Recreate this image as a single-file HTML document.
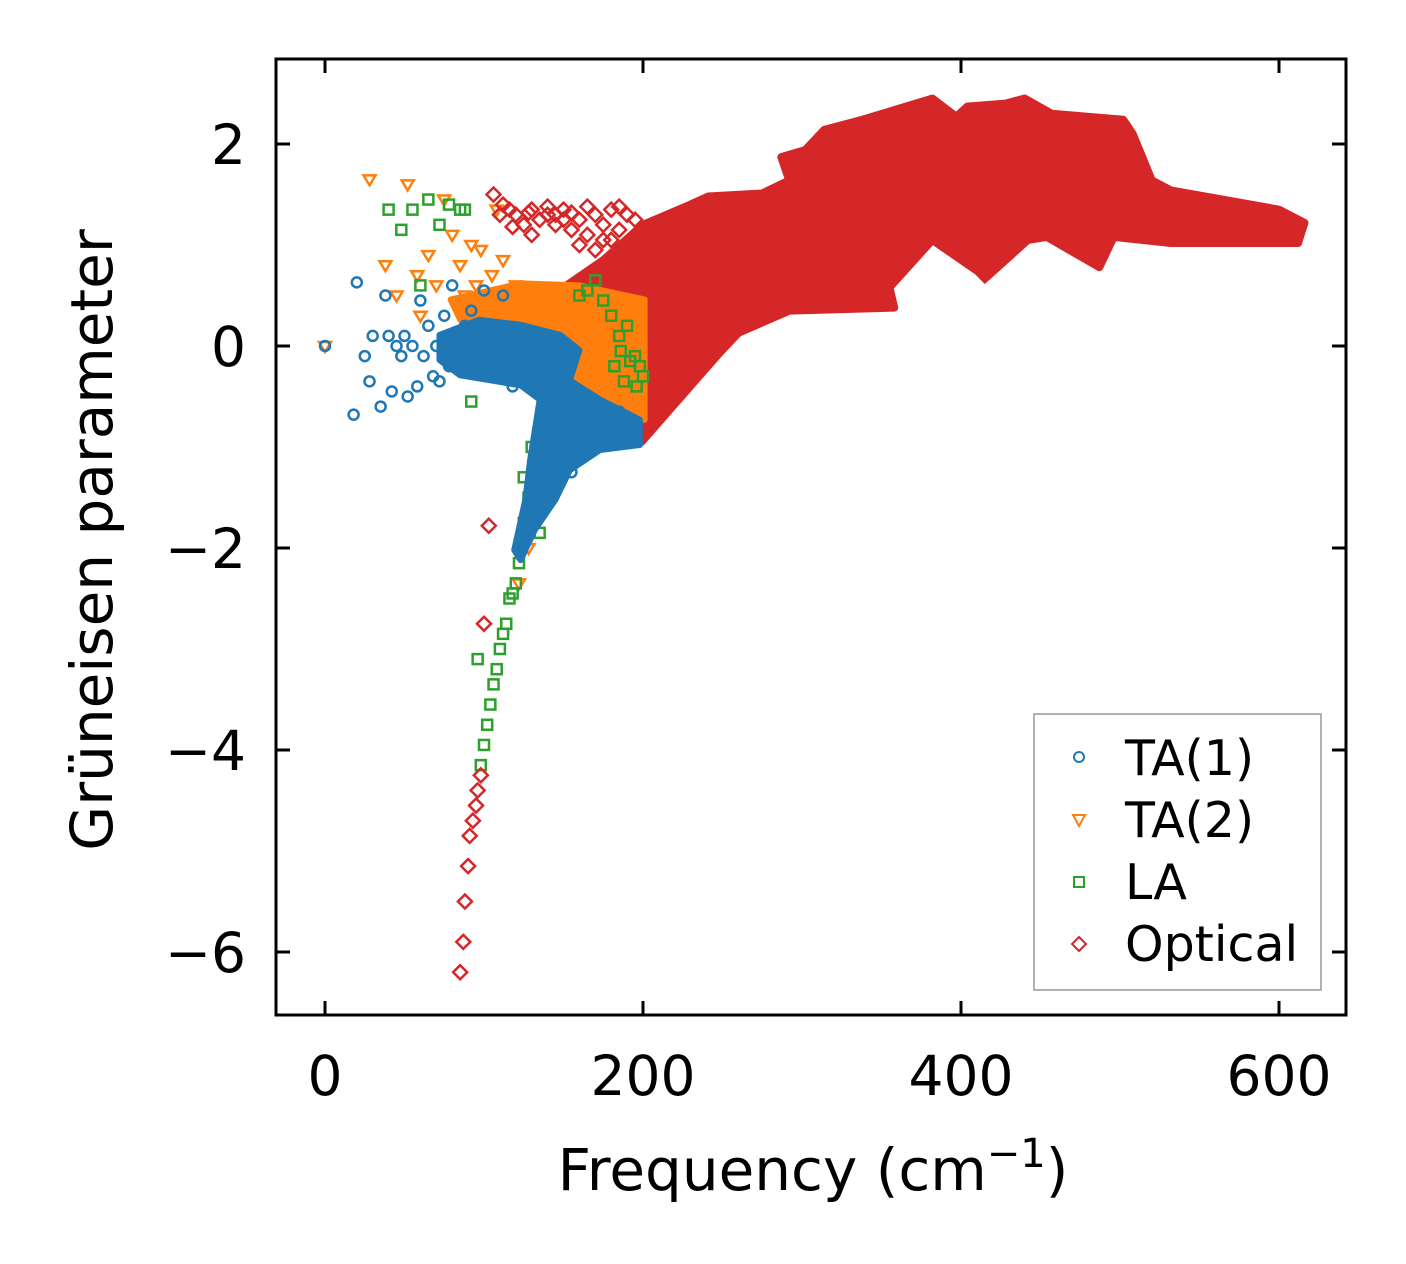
<!DOCTYPE html>
<html><head><meta charset="utf-8"><style>
html,body{margin:0;padding:0;background:#fff;}
svg{display:block;font-family:"DejaVu Sans","Liberation Sans",sans-serif;}
</style></head><body>
<svg id="chart" width="1406" height="1264" viewBox="0 0 1406 1264">
<g id="marks"></g>
<rect x="276" y="59" width="1070" height="956" fill="none" stroke="#000" stroke-width="3"/>
<g id="ticks"></g>
<text x="813" y="1190" font-size="58" text-anchor="middle">Frequency (cm<tspan dy="-23" font-size="40">−1</tspan><tspan dy="23">)</tspan></text>
<text transform="translate(112,540) rotate(-90)" font-size="58" text-anchor="middle">Grüneisen parameter</text>
<g>
<rect x="1034" y="714" width="287" height="276" fill="#fff" stroke="#999" stroke-width="1.5"/>
<circle cx="1079" cy="757" r="5" fill="none" stroke="#1f77b4" stroke-width="2"/>
<text x="1125" y="775" font-size="49">TA(1)</text>
<path d="M1073,815 L1085,815 L1079,826 Z" fill="none" stroke="#ff7f0e" stroke-width="2"/>
<text x="1125" y="837" font-size="49">TA(2)</text>
<rect x="1074" y="877" width="10" height="10" fill="none" stroke="#2ca02c" stroke-width="2"/>
<text x="1125" y="899" font-size="49">LA</text>
<path d="M1079,937 L1086,944 L1079,951 L1072,944 Z" fill="none" stroke="#d62728" stroke-width="2"/>
<text x="1125" y="961" font-size="49">Optical</text>
</g>
</svg>
<script>
const xTicks=[0,200,400,600];
const yTicks=[2,0,-2,-4,-6];
const yTickLabels=["2","0","−2","−4","−6"];
// dense optical region outline (frequency, gamma)
const opticalRegionF=[152,175,200,227,241,275,292,287,302,314,338,382,397,404,428,440,457,502,508,520,532,600,616,612,532,496,487,454,442,416,382,355,358,292,260,248,199,192,200,180];
const opticalRegionG=[0.6,0.85,1.2,1.38,1.48,1.51,1.64,1.87,1.94,2.14,2.24,2.45,2.27,2.37,2.4,2.45,2.3,2.24,2.1,1.64,1.54,1.35,1.22,1.02,1.02,1.08,0.78,1.08,1.05,0.68,1.05,0.58,0.38,0.35,0.13,-0.07,-0.95,-0.7,0,0.5];
// dense TA(2) cloud outline
const ta2RegionF=[79,123,160,201,201,173,148,123,85];
const ta2RegionG=[0.46,0.62,0.6,0.46,-0.73,-0.58,-0.34,0.06,0.26];
// dense TA(1) core outline
const ta1RegionF=[72,97,123,148,160,154,173,198,198,173,154,145,132,123,119,126,129,135,123,104,85,72];
const ta1RegionG=[0.11,0.26,0.21,0.11,-0.04,-0.34,-0.53,-0.73,-0.98,-1.03,-1.23,-1.52,-1.82,-2.12,-2.02,-1.52,-1.13,-0.53,-0.39,-0.34,-0.29,-0.14];
const optF=[85,87,88,90,91,93,95,96,98,100,103,106,110,112,116,120,125,130,140,145,150,155,160,165,170,175,180,185,190,195,130,118,415,135,145,155,165,175,185,195,160,170,180,190,150,140,128];
const optG=[-6.2,-5.9,-5.5,-5.15,-4.85,-4.7,-4.55,-4.4,-4.25,-2.75,-1.78,1.5,1.3,1.4,1.35,1.3,1.2,1.35,1.38,1.3,1.35,1.32,1.25,1.38,1.3,1.2,1.35,1.38,1.3,1.25,1.1,1.18,0.7,1.25,1.2,1.15,1.1,1.05,1.15,1.1,1.0,0.95,1.05,0.9,1.25,1.3,1.32];
const ta1F=[0,18,20,25,28,30,35,38,40,42,45,48,50,52,55,58,60,62,65,68,70,72,75,78,80,82,85,88,90,92,95,98,100,102,105,108,110,112,115,118,160,165,170,175,180,185,190,150,155,145];
const ta1G=[0,-0.68,0.63,-0.1,-0.35,0.1,-0.6,0.5,0.1,-0.45,0.0,-0.1,0.1,-0.5,0.0,-0.4,0.45,-0.1,0.2,-0.3,0.0,-0.35,0.3,-0.2,0.6,0.1,-0.2,0.2,-0.1,0.35,0.0,-0.05,0.55,-0.15,0.1,-0.3,0.0,0.5,-0.1,-0.4,-0.9,-0.85,-0.95,-0.75,-0.8,-0.65,-0.95,-1.1,-1.25,-0.95];
const ta2F=[0,28,38,45,52,58,60,65,70,75,80,85,88,92,95,98,100,105,108,112,115,120,125,130,170,175,180,185,190,195,122,128];
const ta2G=[0,1.65,0.8,0.5,1.6,0.7,0.3,0.9,0.6,1.45,1.1,0.8,0.5,1.0,0.6,0.95,0.2,0.7,1.35,0.85,0.4,0.6,0.3,0.5,-0.1,0.3,0.0,-0.3,-0.5,-0.65,-2.35,-2.0];
const laF=[40,48,55,60,65,72,78,85,88,92,96,98,100,102,104,106,108,110,112,114,116,118,120,122,125,128,130,135,160,165,170,175,180,185,190,195,200,182,188,192,198,196,186,130,125];
const laG=[1.35,1.15,1.35,0.6,1.45,1.2,1.4,1.35,1.35,-0.55,-3.1,-4.15,-3.95,-3.75,-3.55,-3.35,-3.2,-3.0,-2.85,-2.75,-2.5,-2.45,-2.35,-2.15,-1.75,-1.5,-1.0,-1.85,0.5,0.55,0.65,0.45,0.3,0.1,0.2,-0.1,-0.3,-0.2,-0.35,-0.15,-0.2,-0.4,-0.05,-1.6,-1.3];

const sx=f=>325+f*1.59;
const sy=g=>346-g*101;
const NS='http://www.w3.org/2000/svg';
const marks=document.getElementById('marks');
const ticks=document.getElementById('ticks');
function mk(tag,attrs,parent){const e=document.createElementNS(NS,tag);for(const k in attrs)e.setAttribute(k,attrs[k]);parent.appendChild(e);return e;}
function polyPts(F,G){return F.map((f,i)=>sx(f)+','+sy(G[i])).join(' ');}

const poly=mk('polygon',{points:polyPts(opticalRegionF,opticalRegionG),fill:'#d62728',stroke:'#d62728','stroke-width':8,'stroke-linejoin':'round'},marks);


const poly2=mk('polygon',{points:polyPts(ta2RegionF,ta2RegionG),fill:'#ff7f0e',stroke:'#ff7f0e','stroke-width':6,'stroke-linejoin':'round'},marks);



function tri(x,y){return `M${x-6},${y-4} L${x+6},${y-4} L${x},${y+6} Z`;}
function dia(x,y){return `M${x},${y-7} L${x+7},${y} L${x},${y+7} L${x-7},${y} Z`;}
ta2F.forEach((f,i)=>{const p=mk('path',{d:tri(sx(f),sy(ta2G[i])),fill:'none',stroke:'#ff7f0e','stroke-width':2.5},marks);

});
laF.forEach((f,i)=>{const p=mk('rect',{x:sx(f)-5,y:sy(laG[i])-5,width:10,height:10,fill:'none',stroke:'#2ca02c','stroke-width':2.5},marks);

});
const poly3=mk('polygon',{points:polyPts(ta1RegionF,ta1RegionG),fill:'#1f77b4',stroke:'#1f77b4','stroke-width':6,'stroke-linejoin':'round'},marks);


ta1F.forEach((f,i)=>{const p=mk('circle',{cx:sx(f),cy:sy(ta1G[i]),r:5,fill:'none',stroke:'#1f77b4','stroke-width':2.5},marks);

});
optF.forEach((f,i)=>{const p=mk('path',{d:dia(sx(f),sy(optG[i])),fill:'none',stroke:'#d62728','stroke-width':2.5},marks);

});

xTicks.forEach(v=>{const x=sx(v);
mk('line',{x1:x,y1:1015,x2:x,y2:1001,stroke:'#000','stroke-width':3},ticks);
mk('line',{x1:x,y1:59,x2:x,y2:73,stroke:'#000','stroke-width':3},ticks);
const t=mk('text',{x:x,y:1095,'font-size':55,'text-anchor':'middle'},ticks);t.textContent=v;

});
yTicks.forEach((v,i)=>{const y=sy(v);
mk('line',{x1:276,y1:y,x2:290,y2:y,stroke:'#000','stroke-width':3},ticks);
mk('line',{x1:1346,y1:y,x2:1332,y2:y,stroke:'#000','stroke-width':3},ticks);
const t=mk('text',{x:246,y:y+20,'font-size':55,'text-anchor':'end'},ticks);t.textContent=yTickLabels[i];

});
</script>
</body></html>
